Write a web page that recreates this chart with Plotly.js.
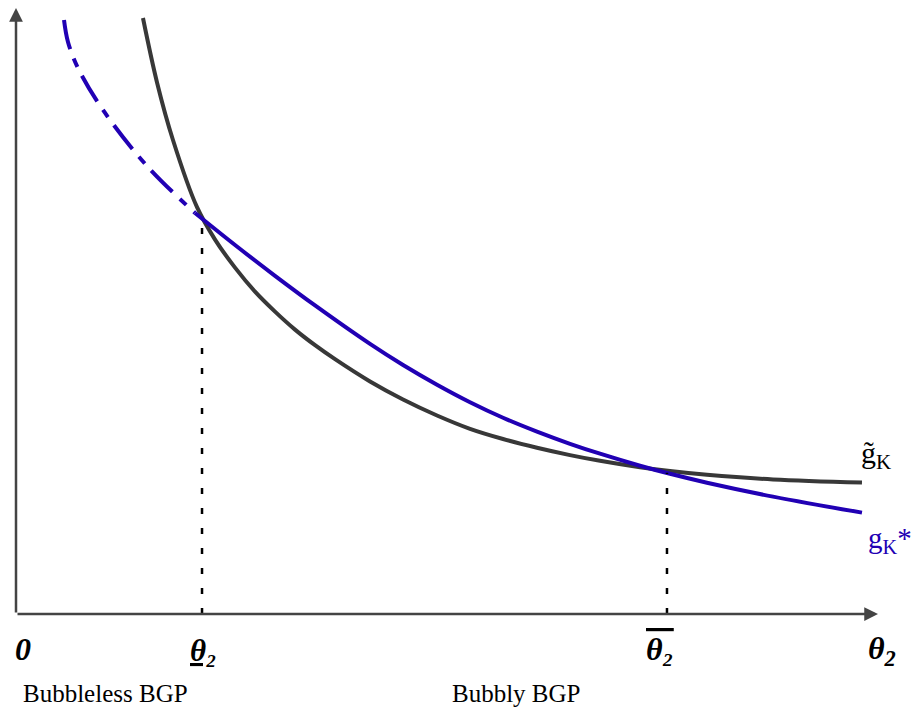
<!DOCTYPE html>
<html>
<head>
<meta charset="utf-8">
<script src="https://cdn.plot.ly/plotly-3.0.1.min.js"></script>
<style>html,body{margin:0;padding:0;background:#fff;}#chart{width:915px;height:708px;}</style>
</head>
<body>
<div id="chart"></div>
<script>
// g~K curve (black)
var gTildeX = [1.473, 1.636, 1.821, 2.100, 2.309, 2.541, 2.773, 3.005, 3.237, 3.469, 3.701, 4.107, 4.490, 4.884, 5.267, 5.650, 6.044, 6.427, 6.775, 7.239, 7.587, 8.016, 8.782, 9.814];
var gTildeY = [9.835, 8.772, 7.822, 6.713, 6.178, 5.716, 5.320, 4.990, 4.693, 4.436, 4.205, 3.837, 3.540, 3.276, 3.056, 2.888, 2.743, 2.622, 2.528, 2.422, 2.358, 2.297, 2.221, 2.170];
// gK* curve (blue), dash-dot part (bubbleless region)
var gStarDashX = [0.557, 0.603, 0.719, 1.009, 1.520, 2.077];
var gStarDashY = [9.802, 9.439, 9.010, 8.317, 7.393, 6.617];
// gK* curve (blue), solid part
var gStarX = [2.077, 2.541, 3.005, 3.469, 4.107, 4.490, 4.884, 5.267, 5.650, 6.044, 6.427, 6.775, 7.239, 7.587, 8.016, 8.782, 9.814];
var gStarY = [6.617, 6.089, 5.581, 5.092, 4.457, 4.109, 3.784, 3.495, 3.239, 3.010, 2.809, 2.645, 2.447, 2.314, 2.167, 1.937, 1.673];
// equilibria (intersections)
var eqX = [2.158, 7.552];
var eqY = [6.56, 2.33];
// axis extents
var axisMaxX = 10;
var axisMaxY = 10;
// labels
var originLabel = "0";
var lowThetaLabel = "<b><i><u>θ\u2082</u></i></b>";
var highThetaLabel = "<b><i><span style=\"text-decoration:overline\">θ\u2082</span></i></b>";
var xAxisLabel = "<b><i>θ<sub>2</sub></i></b>";
var regionLabels = ["Bubbleless BGP", "Bubbly BGP"];
var gTildeLabel = "g\u0303<sub>K</sub>";
var gStarLabel = "g<sub>K</sub>*";

var BLUE = "#2100b4";
var DARK = "#383838";
var FONT = "Liberation Serif, Times New Roman, serif";

var traces = [
  {x: gStarDashX, y: gStarDashY, mode: "lines", line: {color: BLUE, width: 4, dash: "30px,10px,9px,10px", shape: "spline"}, hoverinfo: "skip"},
  {x: gTildeX, y: gTildeY, mode: "lines", line: {color: DARK, width: 4, shape: "spline"}, hoverinfo: "skip"},
  {x: gStarX, y: gStarY, mode: "lines", line: {color: BLUE, width: 4, shape: "spline"}, hoverinfo: "skip"},
  {x: [eqX[0], eqX[0]], y: [0, eqY[0]], mode: "lines", line: {color: "#000", width: 2.5, dash: "6px,14px"}, hoverinfo: "skip"},
  {x: [eqX[1], eqX[1]], y: [0, eqY[1]], mode: "lines", line: {color: "#000", width: 2.5, dash: "6px,14px"}, hoverinfo: "skip"}
];

function lab(x, y, text, size, color) {
  return {x: x, y: y, xref: "paper", yref: "paper", text: text, showarrow: false,
          xanchor: "center", yanchor: "middle", font: {family: FONT, size: size, color: color || "#000"}};
}

var ann = [
  // axes with arrows
  {x: axisMaxX, y: 0, ax: 0, ay: 0, xref: "x", yref: "y", axref: "x", ayref: "y", showarrow: true, arrowhead: 2, arrowsize: 1.1, arrowwidth: 2.5, arrowcolor: "#444", text: "", standoff: 0},
  {x: 0, y: axisMaxY, ax: 0, ay: 0, xref: "x", yref: "y", axref: "x", ayref: "y", showarrow: true, arrowhead: 2, arrowsize: 1.1, arrowwidth: 2.5, arrowcolor: "#444", text: "", standoff: 0},
  // labels
  lab(0.008, -0.058, "<b><i>" + originLabel + "</i></b>", 32),
  lab(0.218, -0.060, lowThetaLabel, 31),
  lab(0.747, -0.058, highThetaLabel, 32),
  lab(1.005, -0.060, xAxisLabel, 32),
  lab(0.104, -0.132, regionLabels[0], 25),
  lab(0.581, -0.132, regionLabels[1], 25),
  lab(0.998, 0.262, gTildeLabel, 30),
  lab(1.014, 0.122, gStarLabel, 29, BLUE)
];

var layout = {
  width: 915, height: 708,
  margin: {l: 16, r: 37, t: 8, b: 94},
  paper_bgcolor: "#fff", plot_bgcolor: "#fff",
  showlegend: false,
  xaxis: {range: [0, axisMaxX], visible: false, fixedrange: true},
  yaxis: {range: [0, axisMaxY], visible: false, fixedrange: true},
  annotations: ann
};

Plotly.newPlot("chart", traces, layout, {staticPlot: true, displayModeBar: false});
</script>
</body>
</html>
